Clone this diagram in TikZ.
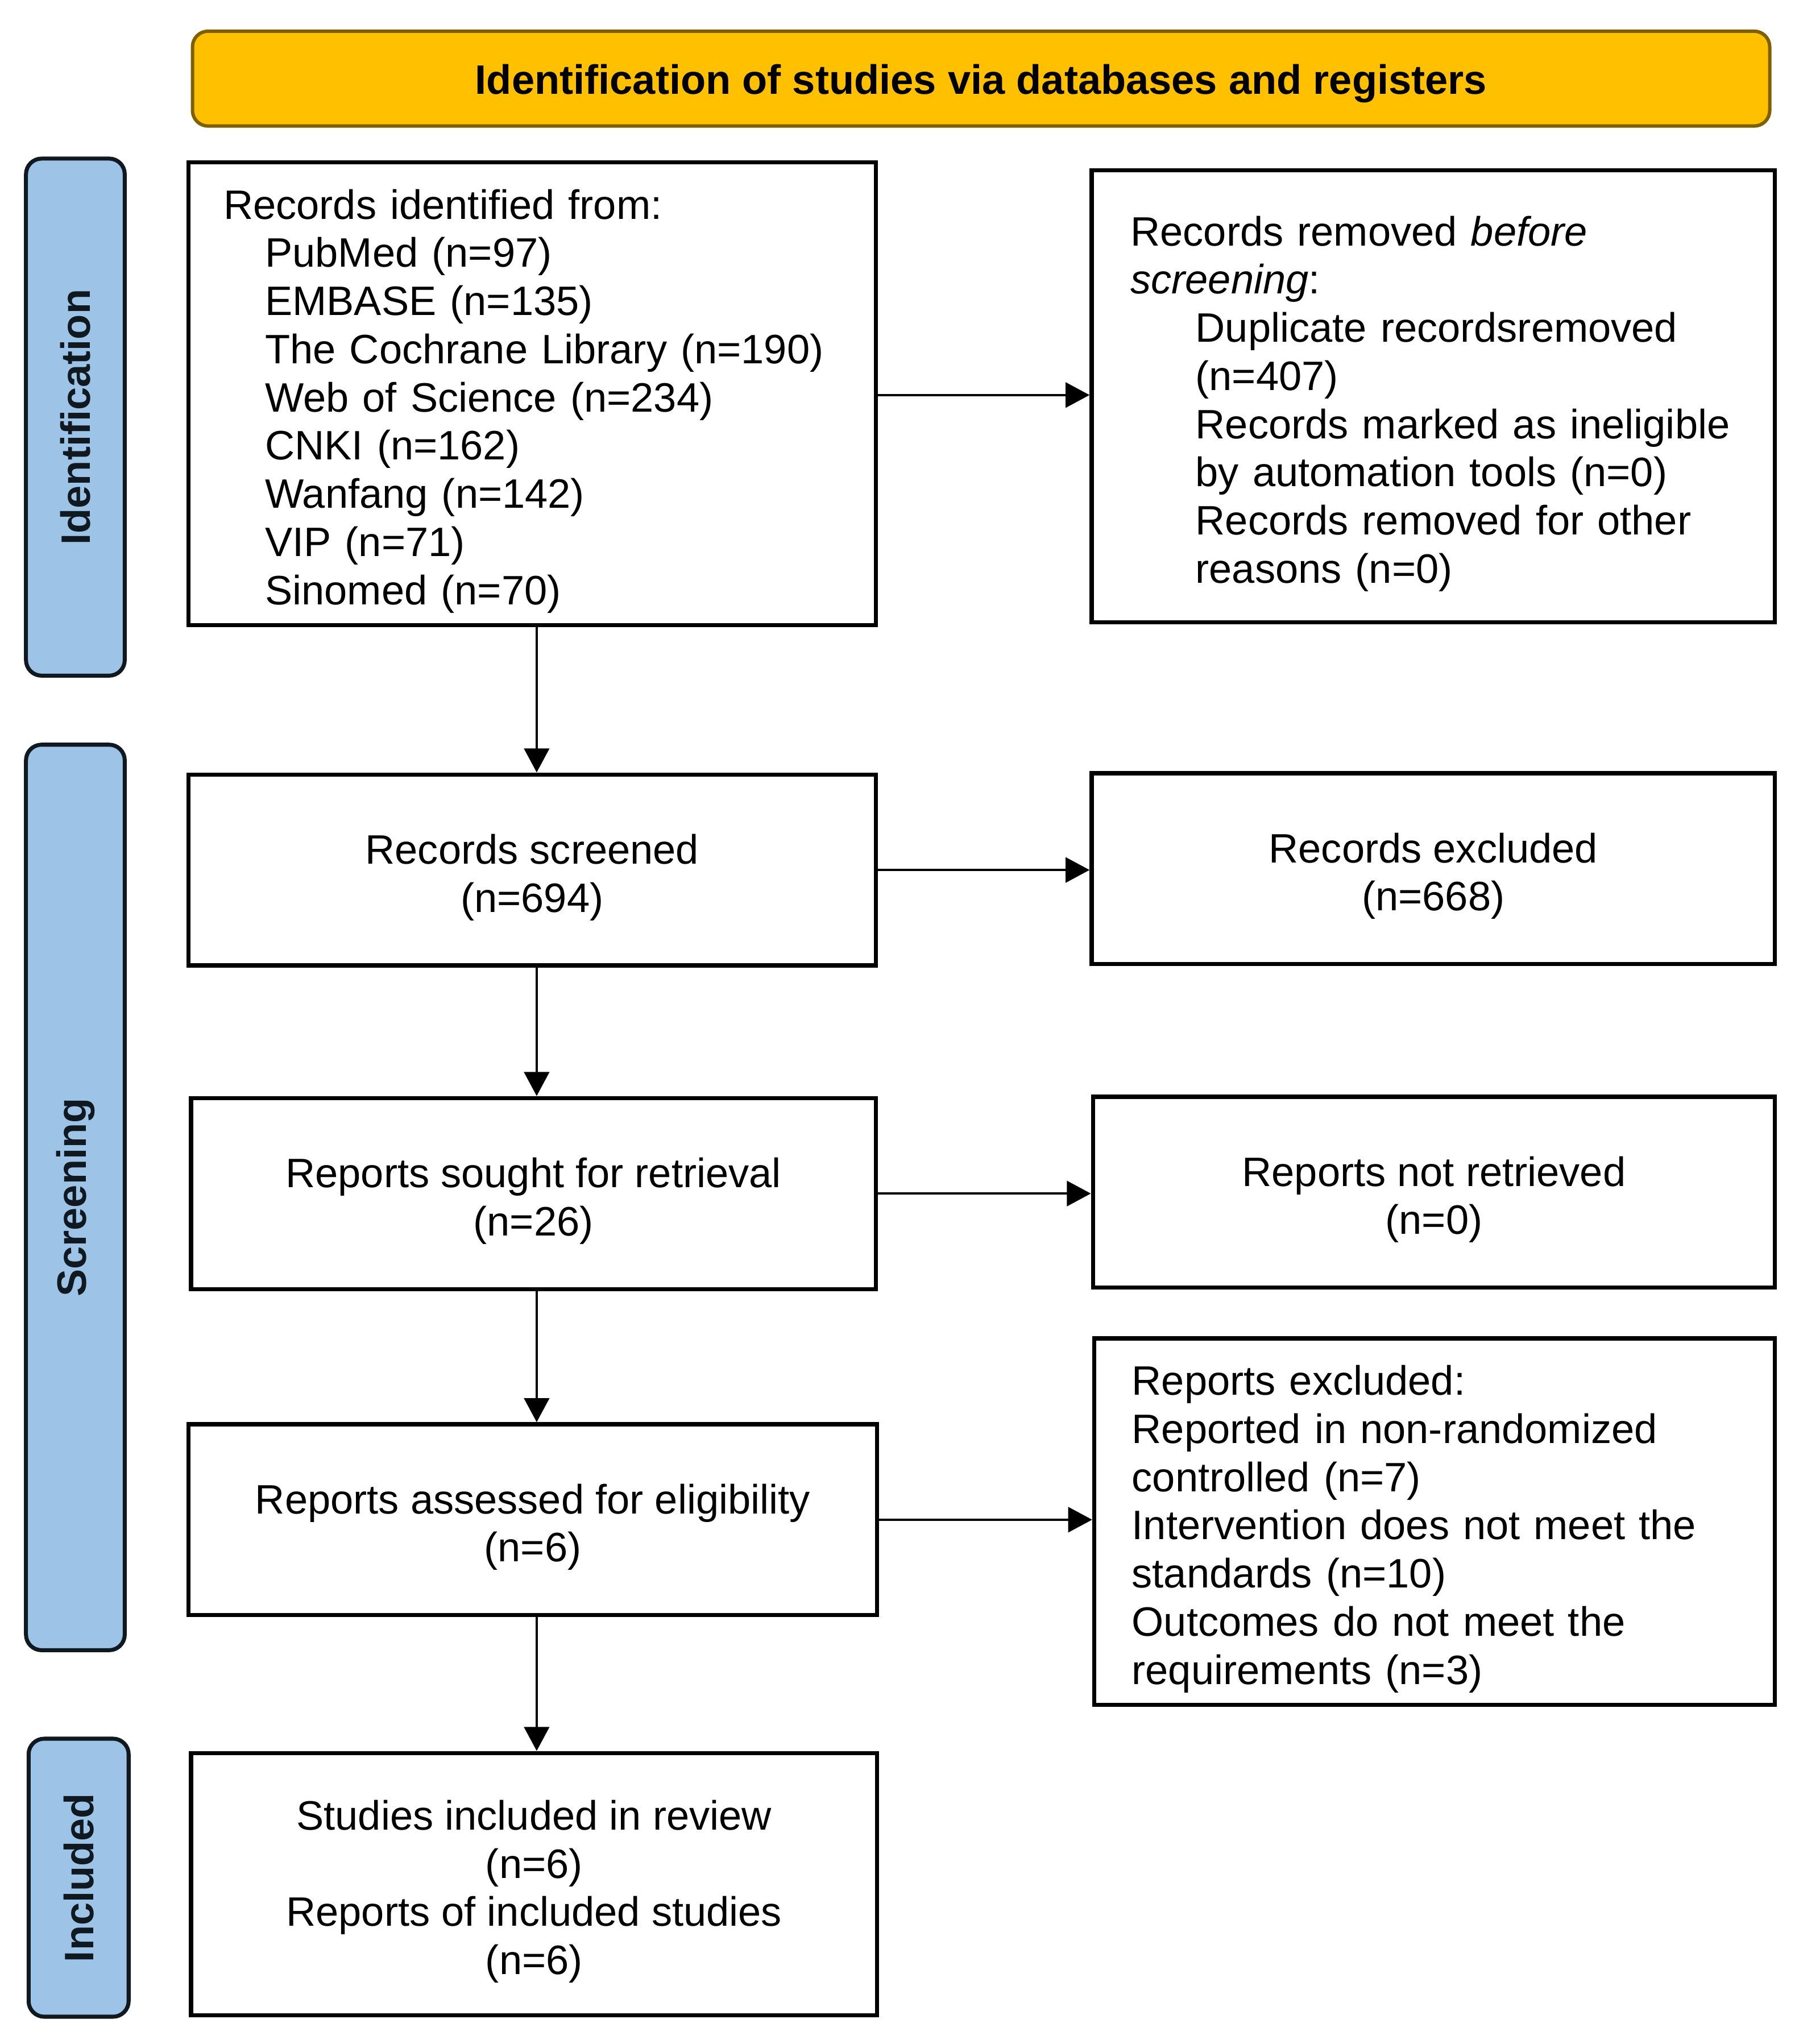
\documentclass[tikz,border=0pt]{standalone}
\usepackage{fontspec}
\setmainfont{Liberation Sans}
\usetikzlibrary{arrows.meta}
\definecolor{hdrfill}{HTML}{FFC000}
\definecolor{hdrline}{HTML}{7F6000}
\definecolor{sidefill}{HTML}{9DC3E6}
\definecolor{sideline}{HTML}{101820}
\newcommand{\topstrut}{\rule{0pt}{19.5pt}}
\begin{document}
\begin{tikzpicture}[x=0.02cm,y=-0.02cm,
  every node/.style={font=\fontsize{18pt}{21.1pt}\selectfont},
  box/.style={draw=black, line width=1.8pt, fill=white, inner ysep=0pt, align=center},
  lbox/.style={box, align=left},
  hdr/.style={draw=hdrline, fill=hdrfill, line width=1.5pt, rounded corners=0.24cm,
    font=\fontsize{18pt}{21.1pt}\selectfont\bfseries},
  side/.style={draw=sideline, fill=sidefill, line width=1.75pt, rounded corners=0.24cm},
  sidelabel/.style={rotate=90, font=\fontsize{18pt}{21.1pt}\selectfont\bfseries, text=sideline},
  arr/.style={draw=black, line width=1pt, -{Triangle[length=10.5pt,width=11pt]}}
]
\useasboundingbox (0,0) rectangle (1384,1573);
\fill[white] (0,0) rectangle (1384,1573);

% header
\node[hdr, minimum width=24.28cm, minimum height=1.46cm] (hdr) at (755,60.5)
  {\rule{0pt}{17.5pt}Identification of studies via databases and registers};

% side bars
\node[side, minimum width=1.52cm, minimum height=7.96cm] (sideI) at (58,321) {};
\node[sidelabel] (labI) at (sideI.center) {Identification};
\node[side, minimum width=1.52cm, minimum height=13.94cm] (sideS) at (58,921.5) {};
\node[sidelabel] (labS) at (sideS.center) {Screening};
\node[side, minimum width=1.54cm, minimum height=4.28cm] (sideInc) at (60.5,1445) {};
\node[sidelabel] (labInc) at (sideInc.center) {Included};

% boxes
\node[lbox, inner xsep=0.54cm, text width=9.5cm, minimum height=7.12cm] (rid) at (409.5,303)
  {\topstrut Records identified from:\\
   \hspace*{0.64cm}PubMed (n=97)\\
   \hspace*{0.64cm}EMBASE (n=135)\\
   \hspace*{0.64cm}The Cochrane Library (n=190)\\
   \hspace*{0.64cm}Web of Science (n=234)\\
   \hspace*{0.64cm}CNKI (n=162)\\
   \hspace*{0.64cm}Wanfang (n=142)\\
   \hspace*{0.64cm}VIP (n=71)\\
   \hspace*{0.64cm}Sinomed (n=70)};

\node[lbox, inner xsep=0.6cm, text width=9.32cm, minimum height=6.96cm] (rem) at (1103,305)
  {\topstrut Records removed \textit{before}\\
   \textit{screening}:\\
   \hspace*{1.0cm}Duplicate recordsremoved\\
   \hspace*{1.0cm}(n=407)\\
   \hspace*{1.0cm}Records marked as ineligible\\
   \hspace*{1.0cm}by automation tools (n=0)\\
   \hspace*{1.0cm}Records removed for other\\
   \hspace*{1.0cm}reasons (n=0)};

\node[box, minimum width=10.58cm, minimum height=2.94cm] (scr) at (409.5,669.5)
  {\topstrut Records screened\\(n=694)};
\node[box, minimum width=10.52cm, minimum height=2.94cm] (exc) at (1103,668.5)
  {\topstrut Records excluded\\(n=668)};

\node[box, minimum width=10.54cm, minimum height=2.94cm] (sought) at (410.5,918.5)
  {\topstrut Reports sought for retrieval\\(n=26)};
\node[box, minimum width=10.5cm, minimum height=2.94cm] (notret) at (1103.5,917.5)
  {\topstrut Reports not retrieved\\(n=0)};

\node[box, minimum width=10.6cm, minimum height=2.94cm] (assess) at (410,1169.5)
  {\topstrut Reports assessed for eligibility\\(n=6)};
\node[lbox, inner xsep=0.58cm, text width=9.32cm, minimum height=5.64cm] (repexc) at (1104,1171)
  {\topstrut Reports excluded:\\
   Reported in non-randomized\\
   controlled (n=7)\\
   Intervention does not meet the\\
   standards (n=10)\\
   Outcomes do not meet the\\
   requirements (n=3)};

\node[box, minimum width=10.56cm, minimum height=4.04cm] (incl) at (411,1450)
  {\topstrut Studies included in review\\(n=6)\\Reports of included studies\\(n=6)};

% connectors
\coordinate (vx) at (413,0);
\draw[arr] (rid.south -| vx) -- (scr.north -| vx);
\draw[arr] (scr.south -| vx) -- (sought.north -| vx);
\draw[arr] (sought.south -| vx) -- (assess.north -| vx);
\draw[arr] (assess.south -| vx) -- (incl.north -| vx);

\draw[arr] ([yshift=-0.02cm]rid.east) -- ([yshift=-0.02cm]rid.east -| rem.west);
\draw[arr] (scr.east) -- (scr.east -| exc.west);
\draw[arr] (sought.east) -- (sought.east -| notret.west);
\draw[arr] (assess.east) -- (assess.east -| repexc.west);
\end{tikzpicture}
\end{document}
